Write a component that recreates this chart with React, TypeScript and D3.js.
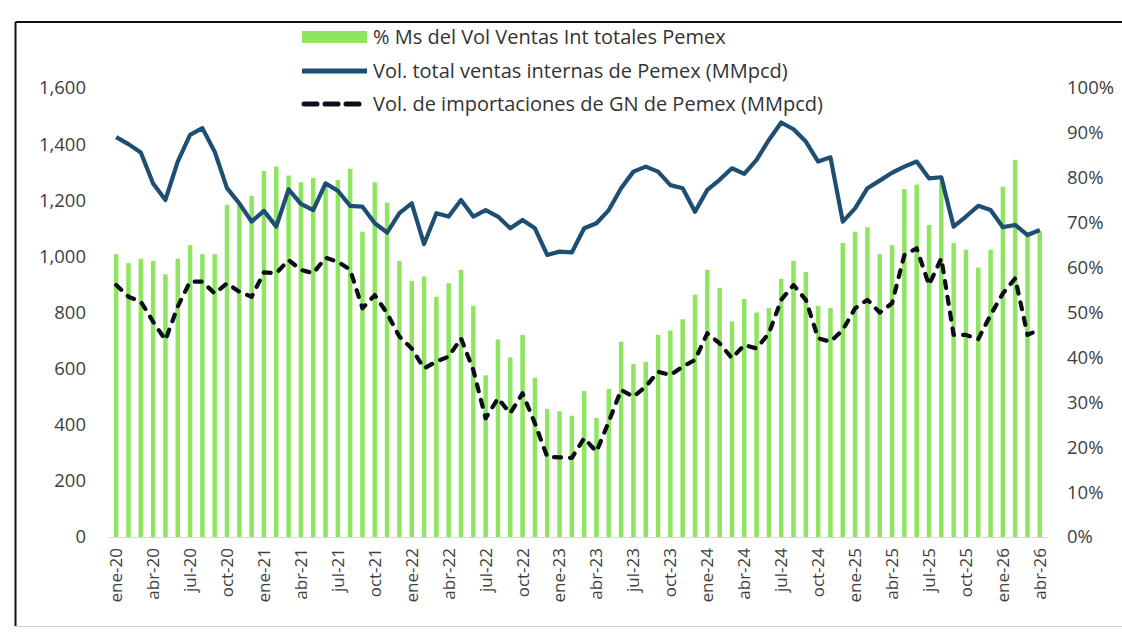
import React from "react"
import * as d3 from "d3"

// meses abreviados y años del eje X
const monthNames = ["ene", "feb", "mar", "abr", "may", "jun", "jul", "ago", "sep", "oct", "nov", "dic"]
const years = ["20", "21", "22", "23", "24", "25", "26"]
const categories = years
  .flatMap((y) => monthNames.map((m) => `${m}-${y}`))
  .slice(0, 76) // ene-20 .. abr-26

// % Ms del Vol Ventas Int totales Pemex (eje derecho)
const sharePct = [
  63, 61, 62, 61.5, 58.5, 62, 65, 63, 63, 74, 74, 76,
  81.5, 82.5, 80.5, 79, 80, 79, 79.5, 82, 68, 79, 74.5, 61.5,
  57, 58, 53.5, 56.5, 59.5, 51.5, 36, 44, 40, 45, 35.5, 28.5,
  28, 27, 32.5, 26.5, 33, 43.5, 38.5, 39, 45, 46, 48.5, 54,
  59.5, 55.5, 48, 53, 50, 51, 57.5, 61.5, 59, 51.5, 51, 65.5,
  68, 69, 63, 65, 77.5, 78.5, 69.5, 79, 65.5, 64, 60, 64,
  78, 84, 67, 68,
]

// Vol. total ventas internas de Pemex (MMpcd)
const salesVol = [
  1425, 1400, 1370, 1260, 1201, 1338, 1433, 1457, 1373, 1243, 1189, 1124,
  1162, 1106, 1239, 1187, 1165, 1260, 1234, 1180, 1177, 1118, 1085, 1154,
  1189, 1044, 1154, 1142, 1201, 1142, 1165, 1142, 1100, 1130, 1100, 1005,
  1017, 1014, 1100, 1118, 1165, 1243, 1302, 1320, 1302, 1254, 1243, 1159,
  1237, 1273, 1314, 1294, 1344, 1415, 1477, 1453, 1409, 1338, 1353, 1124,
  1171, 1243, 1270, 1298, 1320, 1338, 1278, 1282, 1106, 1142, 1180, 1165,
  1104, 1112, 1076, 1094,
]

// Vol. de importaciones de GN de Pemex (MMpcd)
const importVol = [
  898, 856, 839, 767, 702, 821, 910, 910, 868, 904, 874, 856,
  943, 940, 987, 952, 940, 995, 981, 952, 815, 862, 797, 714,
  672, 601, 625, 643, 708, 595, 423, 494, 441, 512, 405, 286,
  284, 282, 352, 304, 411, 524, 500, 536, 589, 577, 607, 631,
  726, 690, 637, 684, 672, 726, 845, 898, 845, 708, 696, 738,
  815, 845, 800, 833, 1005, 1029, 898, 993, 720, 720, 705, 791,
  868, 922, 720, 740,
]

const leftTicks = [0, 200, 400, 600, 800, 1000, 1200, 1400, 1600]
const rightTicks = [0, 10, 20, 30, 40, 50, 60, 70, 80, 90, 100]

const legendItems = [
  "% Ms del Vol Ventas Int totales Pemex",
  "Vol. total ventas internas de Pemex (MMpcd)",
  "Vol. de importaciones de GN de Pemex (MMpcd)",
]

const W = 1122
const H = 639
const FONT = "'Open Sans', 'Liberation Sans', sans-serif"

const App = () => {
  const x = d3.scaleBand().domain(categories).range([110, 1046])
  const yLeft = d3.scaleLinear().domain([0, 1600]).range([537, 88])
  const yRight = d3.scaleLinear().domain([0, 100]).range([537, 88])
  const cx = (d: string) => (x(d) as number) + x.bandwidth() / 2

  const line = d3
    .line<number>()
    .x((d, i) => cx(categories[i]))
    .y((d) => yLeft(d))

  const barW = 4.5

  return (
    <svg
      width={W}
      height={H}
      style={{ position: "absolute", left: 0, top: 0, background: "#fff" }}
      fontFamily={FONT}
    >
      <rect x={0} y={0} width={W} height={H} fill="#fff" />
      {/* marco */}
      <line x1={15.5} x2={W} y1={22} y2={22} stroke="#111" strokeWidth={2} />
      <line x1={15.5} x2={15.5} y1={22} y2={626} stroke="#111" strokeWidth={2} />
      <line x1={15.5} x2={W} y1={626.5} y2={626.5} stroke="#d0d0d0" strokeWidth={1} />

      {/* barras */}
      {sharePct.map((v, i) => (
        <rect
          key={i}
          x={cx(categories[i]) - barW / 2}
          y={yRight(v)}
          width={barW}
          height={yRight(0) - yRight(v)}
          fill="#8fe561"
        />
      ))}

      {/* eje base */}
      <line x1={108} x2={1048} y1={537.5} y2={537.5} stroke="#d9d9d9" strokeWidth={1} />

      {/* líneas */}
      <path d={line(salesVol) || ""} fill="none" stroke="#1d4e74" strokeWidth={4.2} strokeLinejoin="round" />
      <path
        d={line(importVol) || ""}
        fill="none"
        stroke="#0d0d1a"
        strokeWidth={4.2}
        strokeDasharray="7 9"
        strokeLinecap="round"
        strokeLinejoin="round"
      />

      {/* eje izquierdo */}
      {leftTicks.map((t) => (
        <text key={t} x={86} y={yLeft(t)} dy="0.35em" textAnchor="end" fontSize={18.5} fill="#404040">
          {d3.format(",")(t)}
        </text>
      ))}

      {/* eje derecho */}
      {rightTicks.map((t) => (
        <text key={t} x={1067} y={yRight(t)} dy="0.35em" textAnchor="start" fontSize={18.5} fill="#404040">
          {t}%
        </text>
      ))}

      {/* eje X */}
      {categories.map((c, i) =>
        i % 3 === 0 ? (
          <text
            key={c}
            transform={`translate(${cx(c)},548) rotate(-90)`}
            dy="0.35em"
            textAnchor="end"
            fontSize={17}
            fill="#404040"
          >
            {c}
          </text>
        ) : null
      )}

      {/* leyenda */}
      <g>
        <rect x={302} y={31} width={65} height={12} fill="#8fe561" />
        <line x1={302} x2={367} y1={71} y2={71} stroke="#1d4e74" strokeWidth={5} />
        <line
          x1={304}
          x2={367}
          y1={104}
          y2={104}
          stroke="#0d0d1a"
          strokeWidth={5}
          strokeDasharray="13 8"
          strokeLinecap="round"
        />
        {legendItems.map((t, i) => (
          <text key={t} x={373} y={[37, 71, 104][i]} dy="0.35em" fontSize={20} fill="#333">
            {t}
          </text>
        ))}
      </g>
    </svg>
  )
}

export default App
